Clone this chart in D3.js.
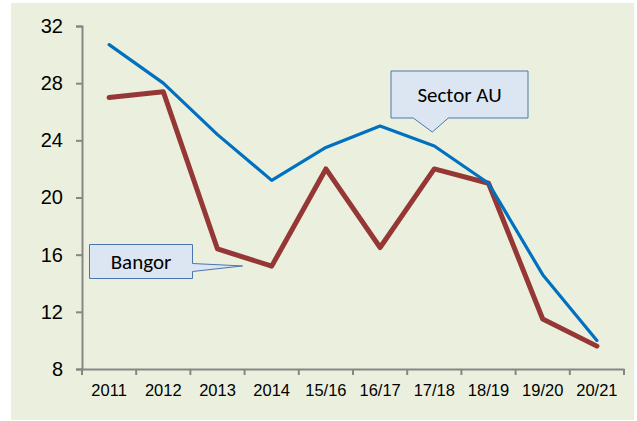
<!DOCTYPE html>
<html>
<head>
<meta charset="utf-8">
<script src="https://cdn.jsdelivr.net/npm/d3@7"></script>
<style>
  body { margin: 0; background: #fff; }
  svg { display: block; font-family: Carlito, "Open Sans", "Noto Sans", sans-serif; }
</style>
</head>
<body>
<div id="chart"></div>
<script>
const categories = ['2011', '2012', '2013', '2014', '15/16', '16/17', '17/18', '18/19', '19/20', '20/21'];
const sectorAU = [30.7, 28.0, 24.4, 21.2, 23.5, 25.0, 23.6, 21.0, 14.6, 10.0];
const bangor = [27.0, 27.4, 16.4, 15.2, 22.0, 16.5, 22.0, 21.0, 11.5, 9.6];
const yTicks = [8, 12, 16, 20, 24, 28, 32];

const width = 637;
const height = 421;
const margins = { top: 26, bottom: 52, left: 82, right: 13 };

const svg = d3.select('#chart')
    .append('svg')
    .attr('width', width)
    .attr('height', height);

//background panel
svg.append('rect')
    .attr('x', 11)
    .attr('y', 3)
    .attr('width', 623)
    .attr('height', 417)
    .attr('fill', '#ebf0de');

//scales
const x = d3.scaleBand()
    .domain(categories)
    .range([margins.left, width - margins.right])
    .padding(0);
const xc = d => x(d) + x.bandwidth() / 2;

const y = d3.scaleLinear()
    .domain([8, 32])
    .range([height - margins.bottom, margins.top]);

//y axis
const yAxis = svg.append('g')
    .attr('transform', `translate(${margins.left},0)`)
    .call(d3.axisLeft(y).tickValues(yTicks).tickSize(6).tickPadding(13));

//x axis
const xAxis = svg.append('g')
    .attr('transform', `translate(0,${height - margins.bottom})`)
    .call(d3.axisBottom(x).tickSize(0).tickPadding(15));

//x tick marks at band edges
const edges = categories.map(d => x(d)).concat([x.range()[1]]);
xAxis.selectAll('.edge')
    .data(edges)
    .enter()
    .append('line')
    .attr('x1', d => d)
    .attr('x2', d => d)
    .attr('y1', 0)
    .attr('y2', 6)
    .attr('stroke', '#868686')
    .attr('stroke-width', 2);

[yAxis, xAxis].forEach(g => {
    g.select('.domain').attr('stroke', '#868686').attr('stroke-width', 2);
    g.selectAll('.tick line').attr('stroke', '#868686').attr('stroke-width', 2);
    g.selectAll('text').attr('fill', '#000');
});
yAxis.selectAll('text').style('font-size', '20px');
xAxis.selectAll('text').style('font-size', '16.5px');

//lines
const line = d3.line()
    .x((d, i) => xc(categories[i]))
    .y(d => y(d))
    .curve(d3.curveLinear);

svg.append('path')
    .datum(bangor)
    .attr('d', line)
    .attr('fill', 'none')
    .attr('stroke', '#953735')
    .attr('stroke-width', 5)
    .attr('stroke-linejoin', 'round')
    .attr('stroke-linecap', 'round');

svg.append('path')
    .datum(sectorAU)
    .attr('d', line)
    .attr('fill', 'none')
    .attr('stroke', '#0070c0')
    .attr('stroke-width', 3.2)
    .attr('stroke-linejoin', 'round')
    .attr('stroke-linecap', 'round');

//callouts
const fillC = '#dce6f2';
const strokeC = '#4a76b0';

// Sector AU: box above, pointer down
{
    const tipX = xc('17/18') - 2;
    const tipY = y(sectorAU[6]) - 14;
    const bx = 391, by = 71, bw = 137, bh = 47;
    const p = `M${bx},${by} H${bx + bw} V${by + bh} H${tipX + 16} L${tipX},${tipY} L${tipX - 19},${by + bh} H${bx} Z`;
    svg.append('path').attr('d', p).attr('fill', fillC).attr('stroke', strokeC).attr('stroke-width', 1);
    svg.append('text')
        .attr('x', bx + bw / 2)
        .attr('y', by + bh / 2 + 7)
        .attr('text-anchor', 'middle')
        .style('font-size', '21px')
        .text('Sector AU');
}

// Bangor: box left, pointer right
{
    const tipX = xc('2013') + 25;
    const tipY = y(bangor[2]) + 17;
    const bx = 89.5, by = 244.5, bw = 103, bh = 34;
    const p = `M${bx},${by} H${bx + bw} V${by + 19} L${tipX},${tipY} L${bx + bw},${by + 27} V${by + bh} H${bx} Z`;
    svg.append('path').attr('d', p).attr('fill', fillC).attr('stroke', strokeC).attr('stroke-width', 1);
    svg.append('text')
        .attr('x', bx + bw / 2)
        .attr('y', by + bh / 2 + 7)
        .attr('text-anchor', 'middle')
        .style('font-size', '21px')
        .text('Bangor');
}
</script>
</body>
</html>
